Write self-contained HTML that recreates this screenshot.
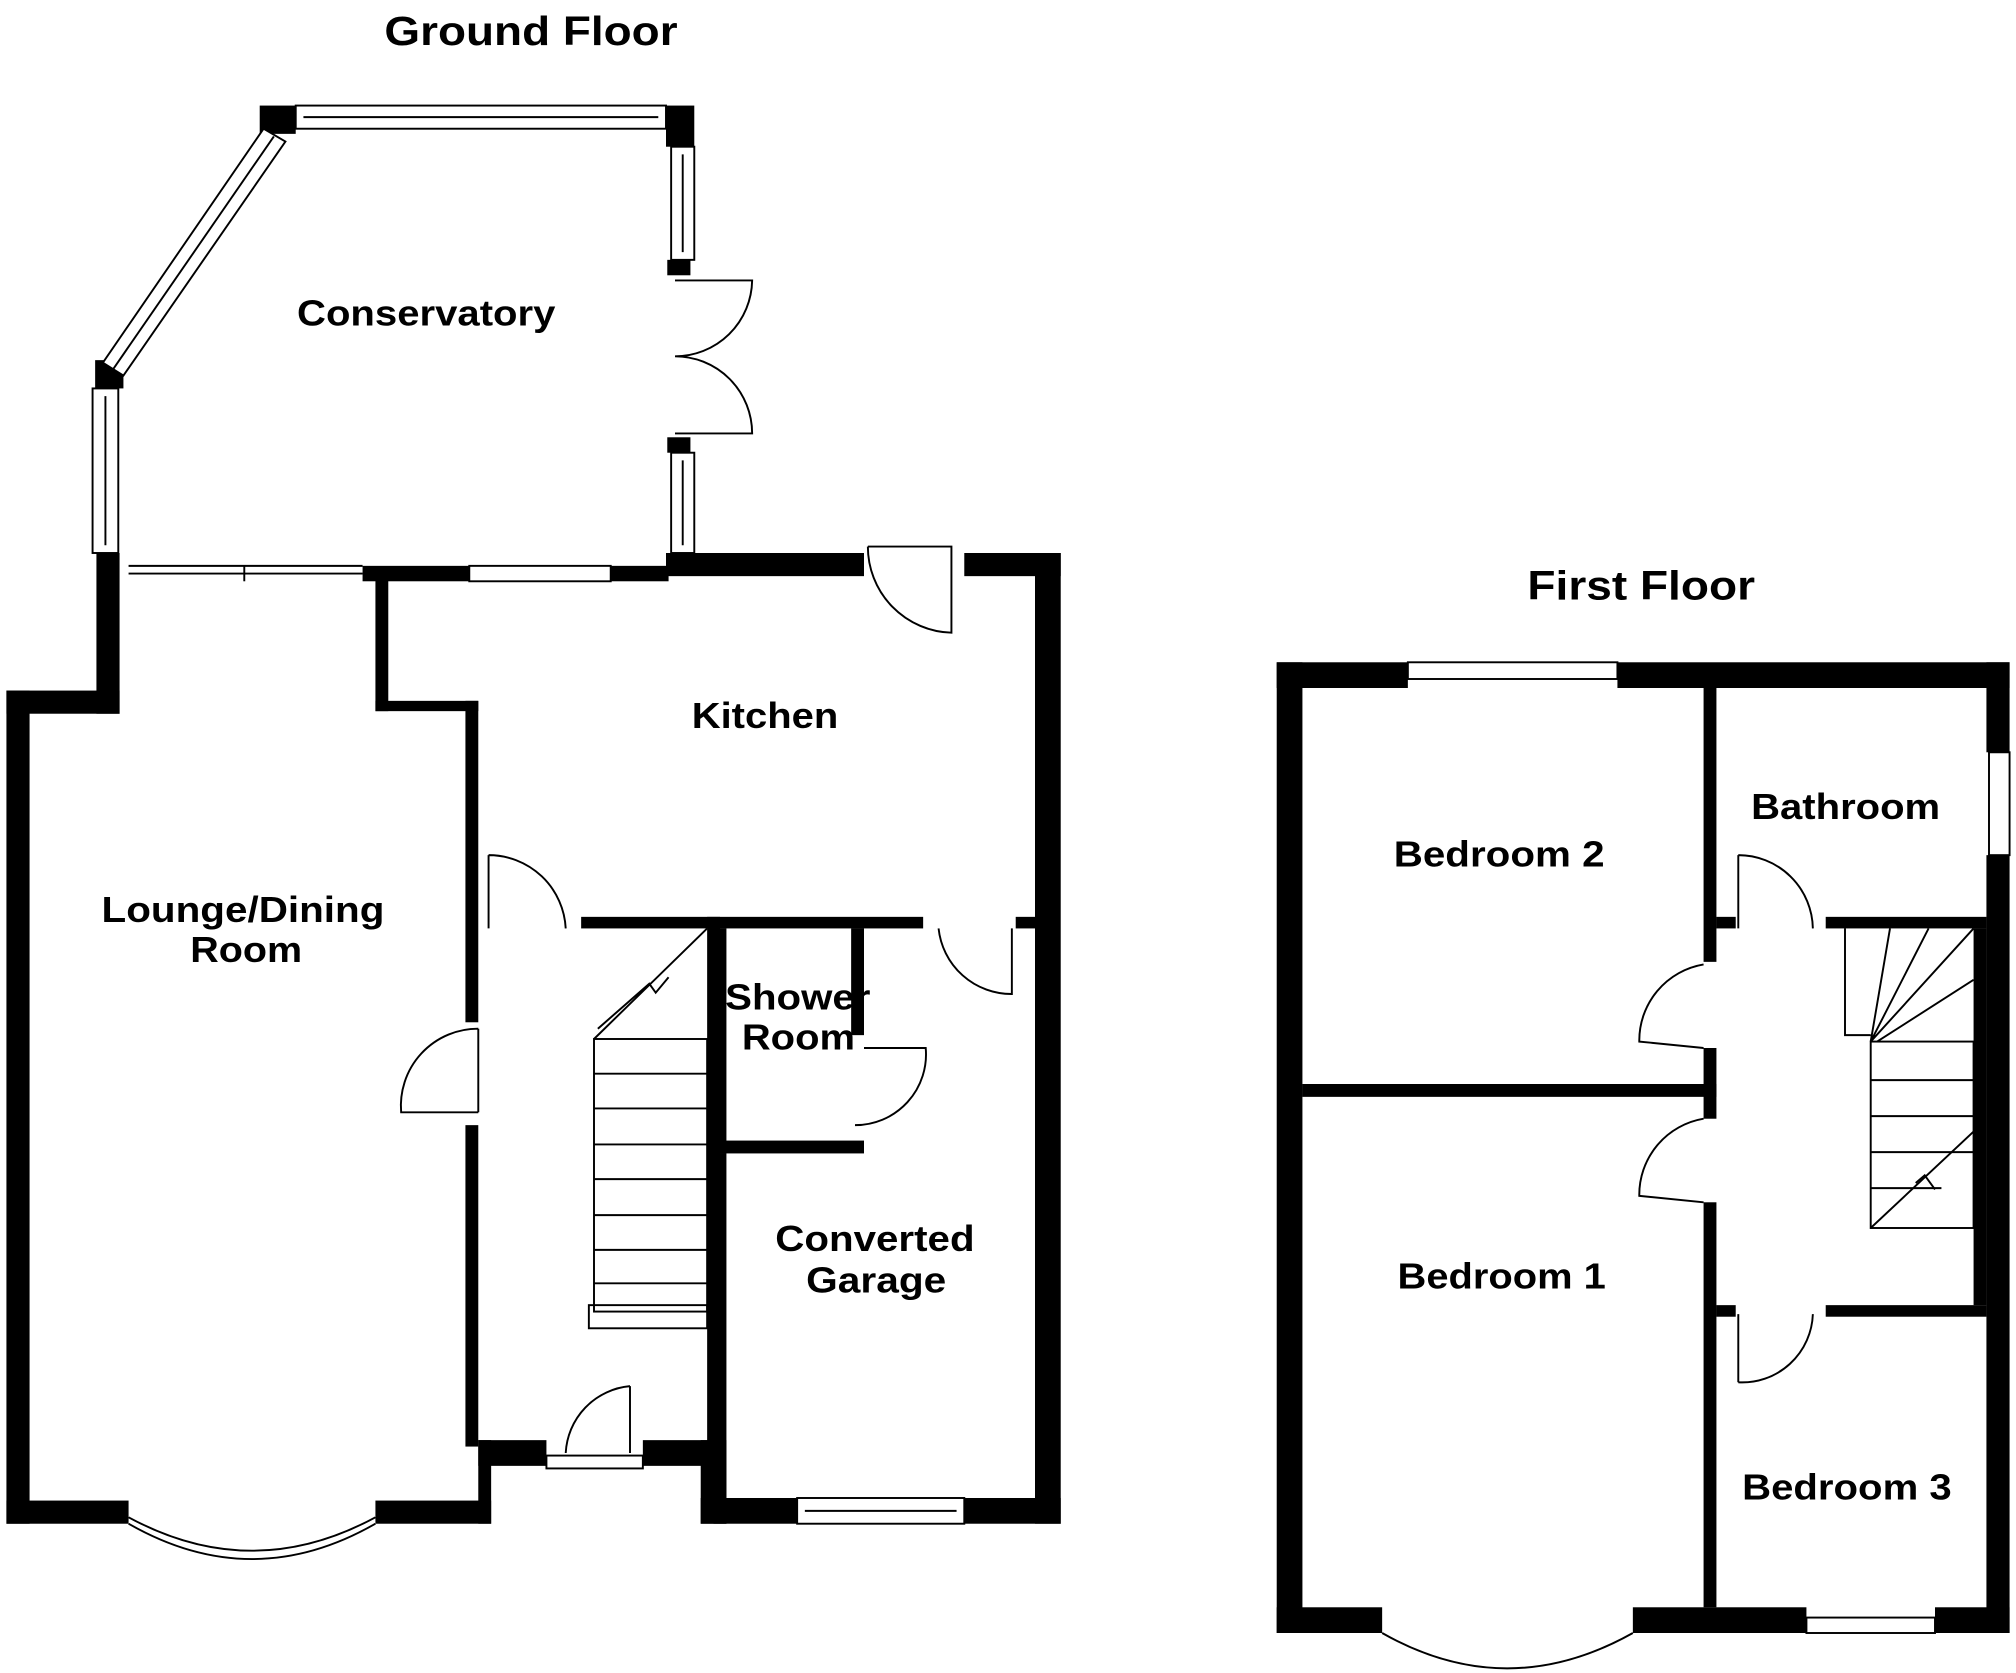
<!DOCTYPE html>
<html><head><meta charset="utf-8"><style>
html,body{margin:0;padding:0;background:#fff;}
svg{display:block}
text{font-family:"Liberation Sans",Arial,sans-serif;font-weight:bold;fill:#000;}
</style></head><body>
<svg width="2016" height="1673" viewBox="0 0 1568 1301" xmlns="http://www.w3.org/2000/svg">
<rect width="1568" height="1301" fill="#fff"/>
<g font-size="32" lengthAdjust="spacingAndGlyphs">
<text x="299" y="35" textLength="228" lengthAdjust="spacingAndGlyphs">Ground Floor</text>
<text x="1188" y="466" textLength="177" lengthAdjust="spacingAndGlyphs">First Floor</text>
</g>
<g font-size="28">
<text x="231" y="253" textLength="201" lengthAdjust="spacingAndGlyphs">Conservatory</text>
<text x="538" y="566" textLength="114" lengthAdjust="spacingAndGlyphs">Kitchen</text>
<text x="79" y="717" textLength="220" lengthAdjust="spacingAndGlyphs">Lounge/Dining</text>
<text x="148" y="748" textLength="87" lengthAdjust="spacingAndGlyphs">Room</text>
<text x="564" y="785" textLength="113" lengthAdjust="spacingAndGlyphs">Shower</text>
<text x="577" y="816" textLength="88" lengthAdjust="spacingAndGlyphs">Room</text>
<text x="603" y="973" textLength="155" lengthAdjust="spacingAndGlyphs">Converted</text>
<text x="627" y="1005" textLength="109" lengthAdjust="spacingAndGlyphs">Garage</text>
<text x="1084" y="674" textLength="164" lengthAdjust="spacingAndGlyphs">Bedroom 2</text>
<text x="1362" y="637" textLength="147" lengthAdjust="spacingAndGlyphs">Bathroom</text>
<text x="1087" y="1002" textLength="162" lengthAdjust="spacingAndGlyphs">Bedroom 1</text>
<text x="1355" y="1166" textLength="163" lengthAdjust="spacingAndGlyphs">Bedroom 3</text>
</g>
<!-- GROUND FLOOR walls -->
<g fill="#000">
<rect x="5" y="537" width="18" height="648"/>
<rect x="5" y="537" width="88" height="18"/>
<rect x="75" y="430" width="18" height="125"/>
<rect x="5" y="1167" width="95" height="18"/>
<rect x="292" y="1167" width="90" height="18"/>
<rect x="362" y="545" width="10" height="250"/>
<rect x="362" y="875" width="10" height="250"/>
<rect x="372" y="1120" width="10" height="65"/>
<rect x="372" y="1120" width="53" height="20"/>
<rect x="500" y="1120" width="60" height="20"/>
<rect x="282" y="440" width="83" height="12"/>
<rect x="475" y="440" width="45" height="12"/>
<rect x="518" y="430" width="154" height="18"/>
<rect x="750" y="430" width="75" height="18"/>
<rect x="805" y="430" width="20" height="755"/>
<rect x="292" y="448" width="10" height="105"/>
<rect x="292" y="545" width="80" height="8"/>
<rect x="452" y="713" width="266" height="9"/>
<rect x="790" y="713" width="15" height="9"/>
<rect x="550" y="713" width="10" height="412"/>
<rect x="555" y="722" width="10" height="175"/>
<rect x="662" y="722" width="10" height="83"/>
<rect x="560" y="887" width="112" height="10"/>
<rect x="555" y="897" width="10" height="288"/>
<rect x="545" y="1120" width="20" height="65"/>
<rect x="545" y="1165" width="75" height="20"/>
<rect x="750" y="1165" width="75" height="20"/>
<!-- conservatory blocks -->
<rect x="202" y="82" width="28" height="22"/>
<rect x="518" y="82" width="22" height="32"/>
<rect x="519" y="202" width="18" height="12"/>
<rect x="519" y="340" width="18" height="12"/>
<rect x="74" y="280" width="22" height="22"/>
</g>
<!-- windows -->
<g fill="#fff" stroke="#000" stroke-width="1.5">
<rect x="230" y="82" width="288" height="18"/>
<line x1="236" y1="91" x2="512" y2="91"/>
<rect x="72" y="302" width="20" height="128"/>
<rect x="522" y="114" width="18" height="88"/>
<rect x="522" y="352" width="18" height="78"/>
<rect x="365" y="440" width="110" height="12"/>
<rect x="620" y="1165" width="130" height="20"/>
<line x1="626" y1="1175" x2="744" y2="1175"/>
<rect x="425" y="1132" width="75" height="10"/>
<polygon points="205,100 222,110 96,292 80,282"/>
<line x1="213" y1="106" x2="88" y2="287"/>
<line x1="100" y1="440" x2="282" y2="440"/>
<line x1="100" y1="446" x2="282" y2="446"/>
<line x1="190" y1="440" x2="190" y2="452"/>
<line x1="82" y1="308" x2="82" y2="424"/>
<line x1="531" y1="120" x2="531" y2="196"/>
<line x1="531" y1="358" x2="531" y2="424"/>
</g>
<!-- doors -->
<g fill="none" stroke="#000" stroke-width="1.5">
<path d="M525 218 L585 218 A60 60 0 0 1 525 277 A60 60 0 0 1 585 337 L525 337"/>
<path d="M100 1185 Q196 1240 292 1185"/>
<path d="M100 1180 Q196 1232 292 1180"/>
<path d="M675 425 L740 425 L740 492 A67 67 0 0 1 675 425"/>
<path d="M380 665 L380 722 M380 665 A60 60 0 0 1 440 722"/>
<path d="M372 800 L372 865 M372 800 A60 60 0 0 0 312 865 L372 865"/>
<path d="M787 722 L787 773 A57 57 0 0 1 730 722"/>
<path d="M672 815 L720 815 A55 55 0 0 1 665 875"/>
<path d="M490 1078 L490 1130 M490 1078 A55 55 0 0 0 440 1130"/>
<!-- stairs -->
<rect x="462" y="808" width="88" height="212"/>
<rect x="458" y="1015" width="92" height="18"/>
<path d="M462 808 L550 722 M465 800 L505 765 L510 772 L520 760"/>
</g>
<g stroke="#000" stroke-width="1.5">
<line x1="462" y1="835" x2="550" y2="835"/><line x1="462" y1="862" x2="550" y2="862"/>
<line x1="462" y1="890" x2="550" y2="890"/><line x1="462" y1="917" x2="550" y2="917"/>
<line x1="462" y1="945" x2="550" y2="945"/><line x1="462" y1="972" x2="550" y2="972"/>
<line x1="462" y1="998" x2="550" y2="998"/>
</g>
<!-- FIRST FLOOR -->
<g fill="#000">
<rect x="993" y="515" width="20" height="755"/>
<rect x="993" y="515" width="102" height="20"/>
<rect x="1258" y="515" width="305" height="20"/>
<rect x="1545" y="515" width="18" height="70"/>
<rect x="1545" y="665" width="18" height="605"/>
<rect x="993" y="1250" width="82" height="20"/>
<rect x="1270" y="1250" width="135" height="20"/>
<rect x="1505" y="1250" width="58" height="20"/>
<rect x="1325" y="535" width="10" height="213"/>
<rect x="1325" y="815" width="10" height="55"/>
<rect x="1325" y="935" width="10" height="315"/>
<rect x="1013" y="843" width="322" height="10"/>
<rect x="1420" y="713" width="125" height="9"/>
<rect x="1335" y="713" width="15" height="9"/>
<rect x="1420" y="1015" width="125" height="9"/>
<rect x="1335" y="1015" width="15" height="9"/>
<rect x="1535" y="722" width="10" height="293"/>
</g>
<g fill="#fff" stroke="#000" stroke-width="1.5">
<rect x="1095" y="515" width="163" height="13"/>
<rect x="1547" y="585" width="16" height="80"/>
<rect x="1405" y="1258" width="100" height="12"/>
</g>
<g fill="none" stroke="#000" stroke-width="1.5">
<path d="M1075 1270 Q1172 1325 1270 1270"/>
<path d="M1352 665 L1352 722 M1352 665 A58 58 0 0 1 1410 722"/>
<path d="M1325 750 A60 60 0 0 0 1275 810 L1325 815"/>
<path d="M1325 870 A60 60 0 0 0 1275 930 L1325 935"/>
<path d="M1352 1075 L1352 1022 M1352 1075 A55 55 0 0 0 1410 1022"/>
<rect x="1455" y="810" width="80" height="145"/>
<path d="M1435 722 L1435 805 L1455 805 M1455 810 L1535 722 M1455 955 L1535 880 M1455 810 L1470 722 M1455 810 L1500 722 M1460 810 L1535 762"/>
<path d="M1490 920 L1497 914 L1505 925"/>
</g>
<g stroke="#000" stroke-width="1.5">
<line x1="1455" y1="840" x2="1535" y2="840"/><line x1="1455" y1="868" x2="1535" y2="868"/>
<line x1="1455" y1="896" x2="1535" y2="896"/><line x1="1455" y1="924" x2="1510" y2="924"/>
</g>
</svg>
</body></html>
